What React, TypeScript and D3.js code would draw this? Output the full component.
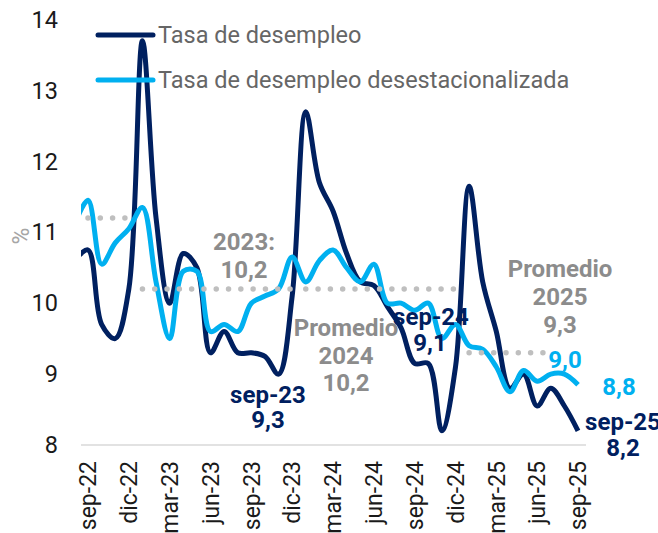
import React from "react";
import * as d3 from "d3";

// monthly data, ago-22 .. sep-25 (ago-22 is only partly visible at the left edge)
const months = [
  "ago-22", "sep-22", "oct-22", "nov-22", "dic-22",
  "ene-23", "feb-23", "mar-23", "abr-23", "may-23", "jun-23", "jul-23", "ago-23", "sep-23", "oct-23", "nov-23", "dic-23",
  "ene-24", "feb-24", "mar-24", "abr-24", "may-24", "jun-24", "jul-24", "ago-24", "sep-24", "oct-24", "nov-24", "dic-24",
  "ene-25", "feb-25", "mar-25", "abr-25", "may-25", "jun-25", "jul-25", "ago-25", "sep-25",
];

const desempleo = [
  10.6, 10.75, 9.7, 9.5, 10.2,
  13.7, 11.2, 10.0, 10.7, 10.5, 9.3, 9.6, 9.3, 9.3, 9.25, 9.0, 10.1,
  12.7, 11.7, 11.3, 10.7, 10.3, 10.25, 9.95, 9.65, 9.15, 9.15, 8.2, 9.1,
  11.65, 10.3, 9.6, 8.8, 9.0, 8.55, 8.8, 8.55, 8.2,
];

const desestacionalizada = [
  11.1, 11.45, 10.55, 10.85, 11.05,
  11.35, 10.3, 9.5, 10.45, 10.45, 9.6, 9.7, 9.6, 10.0, 10.1, 10.2, 10.65,
  10.3, 10.6, 10.75, 10.5, 10.3, 10.55, 10.0, 10.0, 9.9, 10.0, 9.5, 9.7,
  9.4, 9.35, 9.1, 8.75, 9.05, 8.9, 9.0, 9.0, 8.85,
];

const tickMonths = ["sep-22", "dic-22", "mar-23", "jun-23", "sep-23", "dic-23", "mar-24", "jun-24", "sep-24", "dic-24", "mar-25", "jun-25", "sep-25"];
const yTicks = [8, 9, 10, 11, 12, 13, 14];

// yearly averages (dotted)
const avgValues = [11.2, 10.2, 10.2, 9.3];
const avgStart = ["sep-22", "ene-23", "ene-24", "ene-25"];
const avgEnd = ["dic-22", "dic-23", "dic-24", "jul-25"];

const NAVY = "#002060";
const LIGHT = "#00b0f0";
const GREY = "#8c8c8c";
const FONT = "Roboto, 'Noto Sans', sans-serif";

export default function App() {
  const width = 658;
  const height = 533;
  const plotLeft = 81;
  const plotRight = 586;

  const idx = (m: string) => months.indexOf(m);
  const x = d3.scaleLinear().domain([idx("sep-22"), idx("sep-25")]).range([88, 578]);
  const y = d3.scaleLinear().domain([8, 14]).range([445, 19.5]);

  const line = d3.line<number>()
    .x((_, i) => x(i))
    .y(d => y(d))
    .curve(d3.curveCatmullRom.alpha(0.5));

  const bold = { fontFamily: FONT, fontWeight: 700, fontSize: 24 };

  return (
    <div style={{ position: "fixed", left: 0, top: 0 }}>
      <svg width={width} height={height} style={{ display: "block", background: "#fff" }}>
        <defs>
          <clipPath id="plot">
            <rect x={plotLeft} y={0} width={plotRight - plotLeft + 10} height={height} />
          </clipPath>
        </defs>

        {/* baseline */}
        <line x1={plotLeft} x2={plotRight} y1={y(8)} y2={y(8)} stroke="#d9d9d9" strokeWidth={1.5} />

        {/* y axis */}
        {yTicks.map(t => (
          <text key={t} x={58} y={y(t)} dy="0.35em" textAnchor="end"
            style={{ fontFamily: FONT, fontSize: 23.5, fill: "#1a1a1a" }}>{t}</text>
        ))}
        <text transform={`translate(21,${236}) rotate(-90)`} textAnchor="middle" dy="0.35em"
          style={{ fontFamily: FONT, fontSize: 23, fill: "#a6a6a6" }}>%</text>

        {/* x axis */}
        {tickMonths.map(m => (
          <text key={m} transform={`translate(${x(idx(m))},${461}) rotate(-90)`} textAnchor="end" dy="0.36em"
            style={{ fontFamily: FONT, fontSize: 23, fill: "#1a1a1a" }}>{m}</text>
        ))}

        <g clipPath="url(#plot)">
          <path d={line(desempleo) || ""} fill="none" stroke={NAVY} strokeWidth={5} strokeLinejoin="round" />
          <path d={line(desestacionalizada) || ""} fill="none" stroke={LIGHT} strokeWidth={5} strokeLinejoin="round" />
        </g>

        {/* average dotted lines */}
        {avgValues.map((v, i) => (
          <line key={i} x1={x(idx(avgStart[i]))} x2={x(idx(avgEnd[i]))} y1={y(v)} y2={y(v)}
            stroke="#bfbfbf" strokeWidth={5.5} strokeLinecap="round" strokeDasharray="0 12.3" />
        ))}

        {/* legend */}
        <line x1={98} x2={153} y1={35} y2={35} stroke={NAVY} strokeWidth={5} strokeLinecap="round" />
        <text x={158} y={35} dy="0.35em" style={{ fontFamily: FONT, fontSize: 23.5, fill: "#666" }}>Tasa de desempleo</text>
        <line x1={98} x2={153} y1={80} y2={80} stroke={LIGHT} strokeWidth={5} strokeLinecap="round" />
        <text x={158} y={80} dy="0.35em" style={{ fontFamily: FONT, fontSize: 23.5, fill: "#666" }}>Tasa de desempleo desestacionalizada</text>

        {/* annotations */}
        <g style={{ ...bold, fill: GREY }} textAnchor="middle">
          <text x={244} y={242} dy="0.35em">2023:</text>
          <text x={244} y={270} dy="0.35em">10,2</text>
          <text x={346} y={328} dy="0.35em">Promedio</text>
          <text x={346} y={356} dy="0.35em">2024</text>
          <text x={346} y={383} dy="0.35em">10,2</text>
          <text x={560} y={269} dy="0.35em">Promedio</text>
          <text x={560} y={297} dy="0.35em">2025</text>
          <text x={560} y={325} dy="0.35em">9,3</text>
        </g>
        <g style={{ ...bold, fill: NAVY }} textAnchor="middle">
          <text x={268} y={395} dy="0.35em">sep-23</text>
          <text x={268} y={420} dy="0.35em">9,3</text>
          <text x={431} y={317} dy="0.35em">sep-24</text>
          <text x={430} y={343} dy="0.35em">9,1</text>
          <text x={623} y={422} dy="0.35em">sep-25</text>
          <text x={623} y={448} dy="0.35em">8,2</text>
        </g>
        <g style={{ ...bold, fill: LIGHT }} textAnchor="middle">
          <text x={565} y={360} dy="0.35em">9,0</text>
          <text x={619} y={387} dy="0.35em">8,8</text>
        </g>
      </svg>
    </div>
  );
}
